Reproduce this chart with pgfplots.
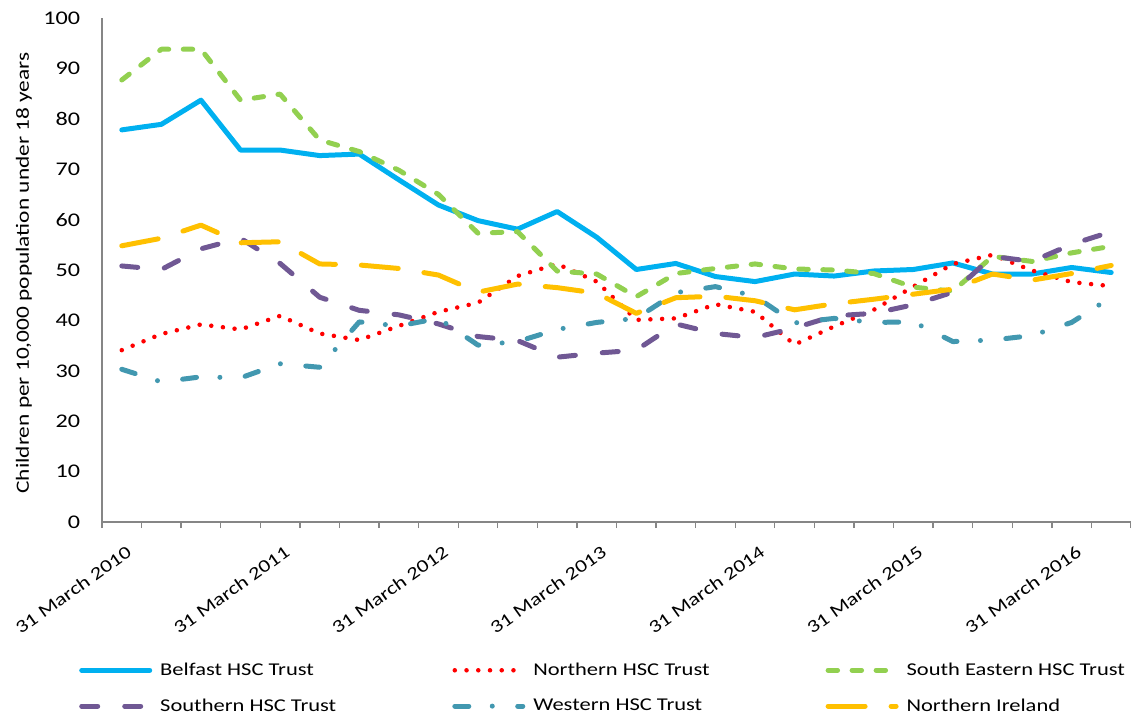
\documentclass[border=0pt]{standalone}
\usepackage{fontspec}
\setmainfont{Carlito}[FakeStretch=1.25]
\usepackage{pgfplots}
\pgfplotsset{compat=1.18}
\usepackage{pgfplotstable}

\definecolor{cBel}{RGB}{0,176,240}
\definecolor{cNor}{RGB}{255,0,0}
\definecolor{cSE}{RGB}{146,208,80}
\definecolor{cSou}{RGB}{112,88,148}
\definecolor{cWes}{RGB}{66,152,176}
\definecolor{cNI}{RGB}{255,192,0}
\definecolor{axgray}{RGB}{134,134,134}

\pgfplotstableread{
x B N SE S W NI
0 77.8 34.1 87.7 50.8 30.3 54.8
1 78.9 37.3 93.8 50.1 27.8 56.3
2 83.7 39.2 93.8 54.2 28.8 58.9
3 73.8 38.2 83.7 56.3 28.6 55.4
4 73.8 40.9 84.9 51.3 31.4 55.6
5 72.7 37.4 75.8 44.6 30.7 51.2
6 73.0 36.1 73.5 42.0 39.7 51.0
7 67.9 38.9 69.8 41.1 38.9 50.3
8 62.9 41.7 65.0 39.3 40.4 49.0
9 59.8 43.5 57.3 36.8 35.1 45.6
10 58.1 48.8 57.6 36.0 35.8 47.2
11 61.6 51.2 49.8 32.7 38.2 46.5
12 56.5 47.7 49.2 33.5 39.6 45.4
13 50.1 40.1 44.7 34.1 40.4 41.4
14 51.3 40.4 49.3 39.3 45.5 44.5
15 48.7 43.2 50.3 37.4 46.7 44.8
16 47.7 41.7 51.2 36.6 44.8 43.9
17 49.2 35.2 50.2 38.5 39.5 42.1
18 48.8 38.8 50.0 40.9 40.4 43.3
19 49.8 42.1 49.3 41.4 39.6 44.2
20 50.1 46.7 46.6 43.1 39.7 45.2
21 51.4 51.2 45.8 45.6 35.8 46.2
22 49.2 53.0 52.7 52.7 36.1 49.2
23 49.2 49.9 51.7 51.7 37.0 48.0
24 50.5 47.6 53.4 55.1 39.6 49.3
25 49.5 46.8 54.7 57.6 44.6 50.9
}\data

\begin{document}
\begin{tikzpicture}
\path[use as bounding box] (0,0) rectangle (848.25pt,538.5pt);
\begin{axis}[
  at={(76.5pt,147pt)}, anchor=south west,
  scale only axis, width=771.75pt, height=378pt,
  xmin=-0.5, xmax=25.5, ymin=0, ymax=100,
  axis x line*=bottom, axis y line*=left,
  axis line style={-, draw=axgray, line width=1.1pt},
  xtick={-0.5,0.5,...,25.5},
  xticklabels={31 March 2010,,,,31 March 2011,,,,31 March 2012,,,,31 March 2013,,,,31 March 2014,,,,31 March 2015,,,,31 March 2016,,,},
  ytick={0,10,...,100},
  tick align=outside, major tick length=4.5pt,
  xtick style={draw=axgray, line width=1pt},
  ytick style={draw=none},
  /pgf/number format/assume math mode=true,
  xticklabel style={font=\fontsize{13.5}{16}\selectfont, inner sep=0pt, xshift=20.5pt, yshift=-16.3pt, rotate=35.5, anchor=east},
  yticklabel style={font=\fontsize{14.5}{17}\selectfont, inner sep=0pt, anchor=east, xshift=-11.75pt},
  ylabel={Children per 10,000 population under 18 years},
  ylabel style={at={(axis description cs:-0.0760,0.494)}, anchor=center, font=\fontsize{14}{17}\selectfont},
  legend columns=3,
  legend cell align=left,
  legend image code/.code={\draw[#1] (0pt,0pt) -- (51pt,0pt);},
  legend style={at={(axis description cs:-0.0224,-0.274)}, anchor=north west, draw=none, fill=none, inner sep=0pt,
    font=\fontsize{13.5}{16}\selectfont, row sep=12pt,
    /tikz/every odd column/.append style={column sep=4pt},
    /tikz/every even column/.append style={column sep=85pt}},
  every axis plot/.append style={line width=3.75pt, line cap=round, line join=round},
]
\addplot[cBel] table[x=x,y=B]{\data};
\addlegendentry{Belfast HSC Trust}
\addplot[cNor, dash pattern=on 0pt off 8.8pt, line width=3.4pt] table[x=x,y=N]{\data};
\addlegendentry{Northern HSC Trust}
\addplot[cSE, dash pattern=on 7.1pt off 10.9pt] table[x=x,y=SE]{\data};
\addlegendentry{South Eastern HSC Trust}
\addplot[cSou, dash pattern=on 12pt off 20.25pt] table[x=x,y=S]{\data};
\addlegendentry{Southern HSC Trust}
\addplot[cWes, dash pattern=on 10.5pt off 17.6pt on 0pt off 19.1pt] table[x=x,y=W]{\data};
\addlegendentry{Western HSC Trust}
\addplot[cNI, dash pattern=on 27.75pt off 19.5pt] table[x=x,y=NI]{\data};
\addlegendentry{Northern Ireland}
\end{axis}
\end{tikzpicture}
\end{document}
